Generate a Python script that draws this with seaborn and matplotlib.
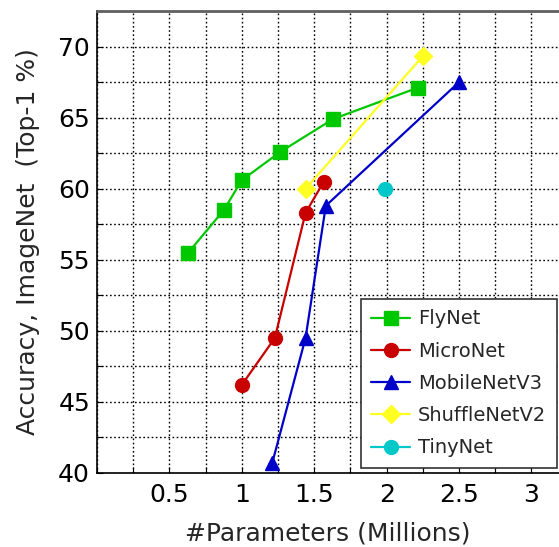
import matplotlib
matplotlib.use("Agg")
import matplotlib.pyplot as plt
from matplotlib.ticker import MultipleLocator
import seaborn as sns
import pandas as pd

# Parameter count (millions) vs. ImageNet top-1 accuracy
flynet_params = [0.63, 0.876, 1.00, 1.267, 1.63, 2.214]
flynet_acc = [55.5, 58.5, 60.6, 62.6, 64.9, 67.1]

micronet_params = [1.00, 1.228, 1.44, 1.566]
micronet_acc = [46.2, 49.5, 58.3, 60.5]

mobilenetv3_params = [1.21, 1.44, 1.58, 2.50]
mobilenetv3_acc = [40.7, 49.5, 58.8, 67.5]

shufflenetv2_params = [1.44, 2.248]
shufflenetv2_acc = [60.0, 69.3]

tinynet_params = [1.99]
tinynet_acc = [60.0]

x_ticks = [0.5, 1, 1.5, 2, 2.5, 3]
x_tick_labels = ["0.5", "1", "1.5", "2", "2.5", "3"]
y_ticks = [40, 45, 50, 55, 60, 65, 70]
y_tick_labels = ["40", "45", "50", "55", "60", "65", "70"]

series = [
    ("FlyNet", flynet_params, flynet_acc, "#00c800", "s", 10),
    ("MicroNet", micronet_params, micronet_acc, "#c80000", "o", 10),
    ("MobileNetV3", mobilenetv3_params, mobilenetv3_acc, "#0000c8", "^", 10),
    ("ShuffleNetV2", shufflenetv2_params, shufflenetv2_acc, "#ffff22", "D", 9),
    ("TinyNet", tinynet_params, tinynet_acc, "#00c8c8", "o", 10),
]

sns.set_style("white")
plt.rcParams["font.family"] = ["DejaVu Sans"]

W, H = 559, 547
fig = plt.figure(figsize=(W / 100, H / 100), dpi=100)
ax_left, ax_right, ax_top, ax_bottom = 97, 559, 11, 473
ax = fig.add_axes([ax_left / W, (H - ax_bottom) / H,
                   (ax_right - ax_left) / W, (ax_bottom - ax_top) / H])

for name, xs, ys, color, marker, ms in series:
    df = pd.DataFrame({"params": xs, "acc": ys})
    sns.lineplot(data=df, x="params", y="acc", ax=ax, color=color,
                 marker=marker, markersize=ms, markeredgecolor=color,
                 markeredgewidth=1, linewidth=1.6, sort=False,
                 label=name, zorder=3)

ax.set_xlim(0, 3.19)
ax.set_ylim(40, 72.5)
ax.xaxis.set_minor_locator(MultipleLocator(0.25))
ax.yaxis.set_minor_locator(MultipleLocator(2.5))
ax.set_xticks(x_ticks)
ax.set_xticklabels(x_tick_labels)
ax.set_yticks(y_ticks)
ax.set_yticklabels(y_tick_labels)

ax.grid(True, which="both", color="black", linestyle=(0, (1.2, 1.8)),
        linewidth=1.0, zorder=1)
ax.set_axisbelow(True)

ax.tick_params(axis="both", which="both", direction="in", labelsize=18,
               length=4, width=0.8, colors="black", top=False, right=False,
               bottom=True, left=True)
ax.tick_params(axis="x", which="major", pad=7)
ax.tick_params(axis="y", which="major", pad=5)

for side in ["left", "bottom"]:
    ax.spines[side].set_color("black")
    ax.spines[side].set_linewidth(1.2)
ax.spines["top"].set_color("#606060")
ax.spines["top"].set_linewidth(2.0)
ax.spines["right"].set_visible(False)

ax.set_xlabel("#Parameters (Millions)", fontsize=18, labelpad=11)
ax.set_ylabel("Accuracy, ImageNet  (Top-1 %)", fontsize=18, labelpad=13)

leg_x = (557 - ax_left) / (ax_right - ax_left)
leg_y = (ax_bottom - 468) / (ax_bottom - ax_top)
leg = ax.legend(loc="lower right", bbox_to_anchor=(leg_x, leg_y),
                fontsize=14, frameon=True, fancybox=False,
                borderpad=0.55, labelspacing=0.68, handlelength=2.0,
                handletextpad=0.4, borderaxespad=0.0)
leg.get_frame().set_edgecolor("#333333")
leg.get_frame().set_linewidth(1.2)
leg.get_frame().set_alpha(1.0)

fig.savefig("out.png", dpi=100)
